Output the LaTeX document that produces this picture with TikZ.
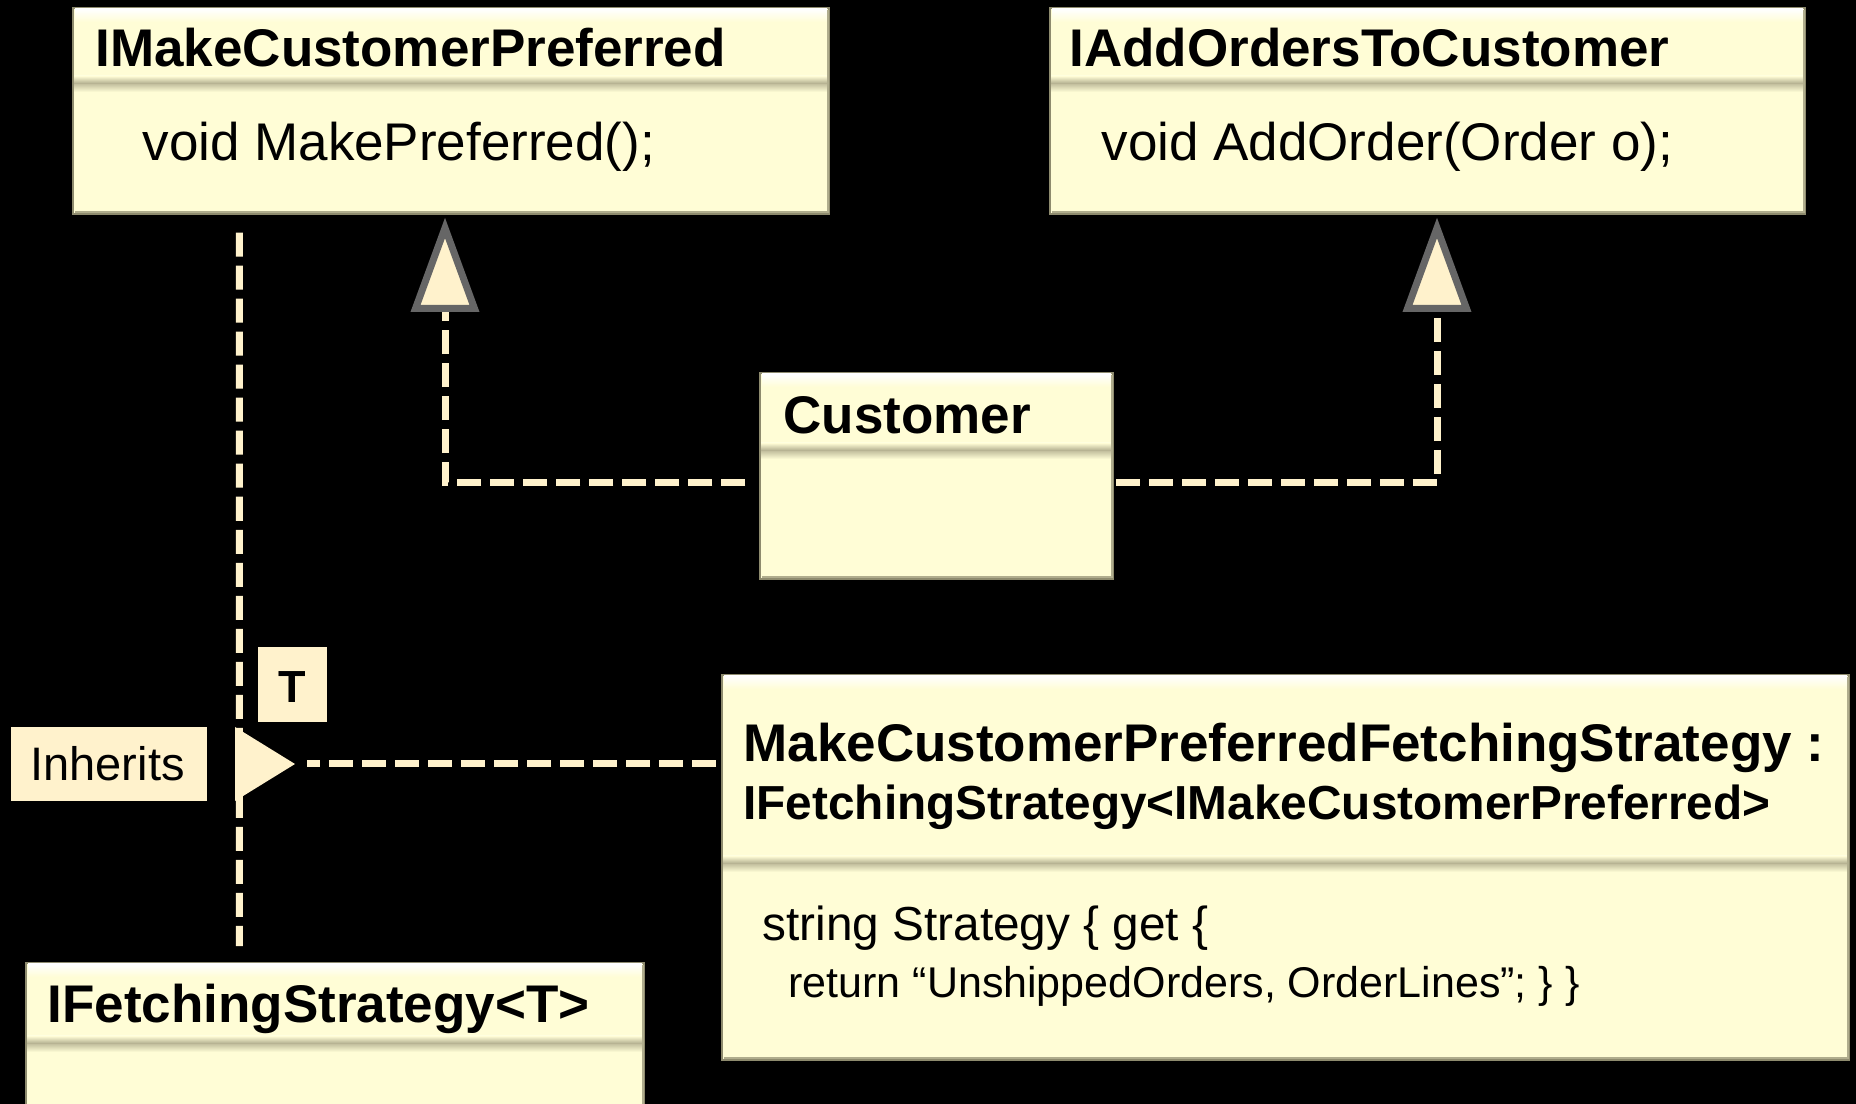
\documentclass[tikz,border=0pt]{standalone}
\usepackage{fontspec}
\setmainfont{Liberation Sans}
\usetikzlibrary{fit}

\definecolor{boxfill}{HTML}{FFFDD6}
\definecolor{boxedge}{HTML}{8E8B6E}
\definecolor{divdark}{HTML}{A29E80}
\definecolor{tagfill}{HTML}{FFF2CC}
\definecolor{linec}{HTML}{FFF2CC}
\definecolor{tipedge}{HTML}{666666}

\tikzset{
  umlbox/.style={draw=boxedge, line width=0.6pt, fill=boxfill, inner sep=0pt},
  tagbox/.style={fill=tagfill, inner sep=0pt},
  txt/.style={anchor=base west, inner sep=0pt, text=black},
  ttl/.style={txt, font=\bfseries\fontsize{21.2pt}{25pt}\selectfont},
  ttlsmall/.style={txt, font=\bfseries\fontsize{19.1pt}{23pt}\selectfont},
  member/.style={txt, font=\fontsize{21.2pt}{25pt}\selectfont},
  membersmall/.style={txt, font=\fontsize{19.1pt}{23pt}\selectfont},
  membertiny/.style={txt, font=\fontsize{17.2pt}{21pt}\selectfont},
  tagtext/.style={inner sep=0pt, text=black, font=\fontsize{18.8pt}{22pt}\selectfont},
  dep/.style={draw=linec, line width=2.8pt, dash pattern=on 9.6pt off 3.6pt},
  gentip/.style={fill=tagfill, draw=tipedge, line width=2.8pt, line join=miter},
}

% class box: name, x1, y1, x2, y2, y of the header divider
\newcommand\classbox[6]{%
  \node[umlbox, fit={(#2,#3) (#4,#5)}] (#1) {};
  \shade[top color=white, bottom color=boxfill] (#2+2,#3+1) rectangle (#4-2,#3+14);
  \shade[top color=boxfill, bottom color=divdark] (#2+1,#6-9) rectangle (#4-1,#6);
  \shade[top color=divdark!55!boxfill, bottom color=boxfill] (#2+1,#6) rectangle (#4-1,#6+7);
  \draw[boxedge!70!boxfill, line width=0.8pt] (#4-1.5,#3+2) -- (#4-1.5,#5-1.5) -- (#2+2,#5-1.5);
}

\begin{document}
\begin{tikzpicture}[x=0.4pt, y=-0.4pt]
  % page and background
  \fill[black] (0,0) rectangle (1856,1104);
  \useasboundingbox (0,0) rectangle (1856,1104);

  % classes
  \classbox{mcp}{73}{8}{829}{214}{85}
  \classbox{aoc}{1050}{8}{1805}{214}{85}
  \classbox{cust}{760}{373}{1113}{579}{452}
  \classbox{ifs}{26}{963}{644}{1112}{1045}
  \classbox{mcpfs}{722}{675}{1849}{1060}{865}

  % realisation of the two interfaces by Customer
  \coordinate (tipL) at (445,308.5);
  \coordinate (tipR) at (1437,308.5);
  \draw[dep] ([shift={(-5.6pt,-2.8pt)}]cust.west) -| (tipL);
  \draw[dep] ([shift={(0.8pt,-2.8pt)}]cust.east) -| (tipR);
  \filldraw[gentip] (445,228) -- (415.5,308.5) -- (474.5,308.5) -- cycle;
  \filldraw[gentip] (1437,228) -- (1407.5,308.5) -- (1466.5,308.5) -- cycle;

  % generic binding of IFetchingStrategy<T>
  \draw[dep] ([shift={(66.8pt,-7.2pt)}]mcp.south west) -- ([shift={(85.6pt,6.4pt)}]ifs.north west);
  \coordinate (inhTip) at (295,764);
  \coordinate (inhEnd) at (716,764);
  \draw[dep] (inhEnd) -- ([xshift=4.8pt]inhTip);
  \fill[tagfill] (235,727) -- (inhTip) -- (235,801) -- cycle;

  % binding labels
  \node[tagbox, fit={(258,647) (327,722)}] (tbox) {};
  \node[tagtext, font=\bfseries\fontsize{18pt}{22pt}\selectfont, anchor=base] (tlab) at (292.5,703) {T};
  \node[tagbox, fit={(11,727) (207,801)}] (inhbox) {};
  \node[tagtext, anchor=base west] (inhlab) at (30,781) {Inherits};

  % class texts
  \node[ttl] (mcpname) at (95,67) {IMakeCustomerPreferred};
  \node[member] (mcpop) at (142,161) {void MakePreferred();};
  \node[ttl] (aocname) at (1069,67) {IAddOrdersToCustomer};
  \node[member] (aocop) at (1101,161) {void AddOrder(Order o);};
  \node[ttl] (custname) at (783,434) {Customer};
  \node[ttl] (ifsname) at (47,1023) {IFetchingStrategy<T>};
  \node[ttl] (mcpfsname) at (743,762) {MakeCustomerPreferredFetchingStrategy :};
  \node[ttlsmall] (mcpfsbase) at (743,820) {IFetchingStrategy<IMakeCustomerPreferred>};
  \node[membersmall] (mcpfsprop) at (762,941) {string Strategy \{ get \{};
  \node[membertiny] (mcpfsret) at (788,998) {return “UnshippedOrders, OrderLines”; \} \}};
\end{tikzpicture}
\end{document}
